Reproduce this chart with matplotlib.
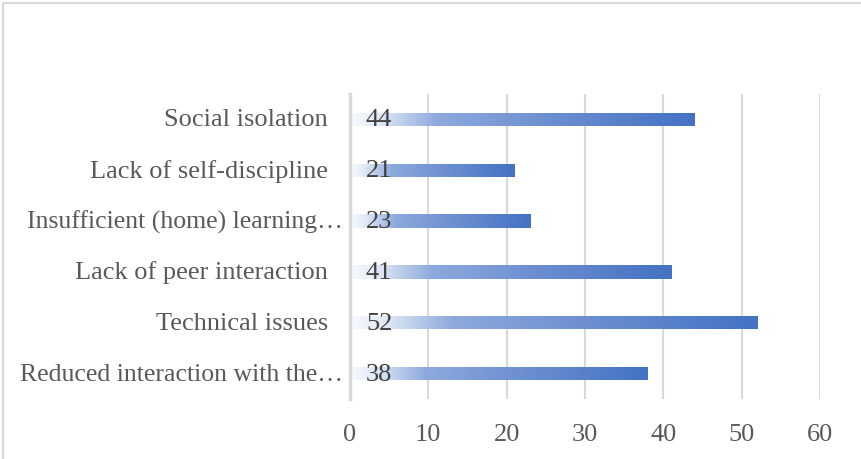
import matplotlib
matplotlib.use('Agg')
import matplotlib.pyplot as plt
from matplotlib.colors import LinearSegmentedColormap
from matplotlib.patches import Rectangle
import numpy as np

# categories listed bottom to top, like the chart
categories = ['Reduced interaction with the\u2026', 'Technical issues',
              'Lack of peer interaction', 'Insufficient (home) learning\u2026',
              'Lack of self-discipline', 'Social isolation']
values = [38, 52, 41, 23, 21, 44]
xticks = [0, 10, 20, 30, 40, 50, 60]

plt.rcParams['font.family'] = ['Liberation Serif', 'DejaVu Serif']
txt_color = '#595959'

fig = plt.figure(figsize=(8.61, 4.6), dpi=100)
ax = fig.add_axes([350 / 861, 1 - 400 / 460, 470 / 861, 305 / 460])

# light border of the chart area
fig.patches.append(Rectangle((3 / 861, -0.05), 1.1, 1 - 4 / 460 + 0.05,
                             transform=fig.transFigure, fill=False,
                             edgecolor='#d9d9d9', linewidth=1.5, zorder=0))

grad = LinearSegmentedColormap.from_list(
    'bar_grad', [(0, '#f8fafd'), (0.08, '#e3eaf7'), (0.25, '#8eaadd'),
                 (0.6, '#6a8dd0'), (1, '#4472c4')])

y = np.arange(len(categories))
bars = ax.barh(y, values, height=0.26, color='none', zorder=2)
g = np.linspace(0, 1, 256).reshape(1, -1)
for b in bars:
    x0, y0, w, h = b.get_x(), b.get_y(), b.get_width(), b.get_height()
    im = ax.imshow(g, cmap=grad, aspect='auto', extent=(x0, x0 + w, y0, y0 + h),
                   zorder=2, interpolation='bilinear')
    im.set_clip_path(b)

for yi, v in zip(y, values):
    ax.annotate(str(v), xy=(0, yi), xytext=(11.5, 0), textcoords='offset points',
                ha='left', va='center', fontsize=19, color='#404040', zorder=3)

# category labels; truncated ones let the ellipsis hang past the edge
for yi, c in zip(y, categories):
    dx = -5 if c.endswith('\u2026') else -16
    fs = 18.5 if c.endswith('\u2026') else 19
    ax.annotate(c, xy=(0, yi), xytext=(dx, 0), textcoords='offset points',
                ha='right', va='center', fontsize=fs, color=txt_color,
                annotation_clip=False)

ax.set_xlim(0, 60)
ax.set_ylim(-0.5, len(categories) - 0.5)
ax.set_xticks(xticks)
ax.set_yticks(y)
ax.set_yticklabels([])
ax.tick_params(axis='both', length=0, labelsize=19, labelcolor=txt_color)
ax.tick_params(axis='x', pad=17)

ax.grid(axis='x', color='#d9d9d9', linewidth=1.5, zorder=0)
ax.set_axisbelow(True)
for s in ['top', 'right', 'bottom']:
    ax.spines[s].set_visible(False)
ax.spines['left'].set_color('#d9d9d9')
ax.spines['left'].set_linewidth(2.5)

fig.savefig('out.png', dpi=100)
